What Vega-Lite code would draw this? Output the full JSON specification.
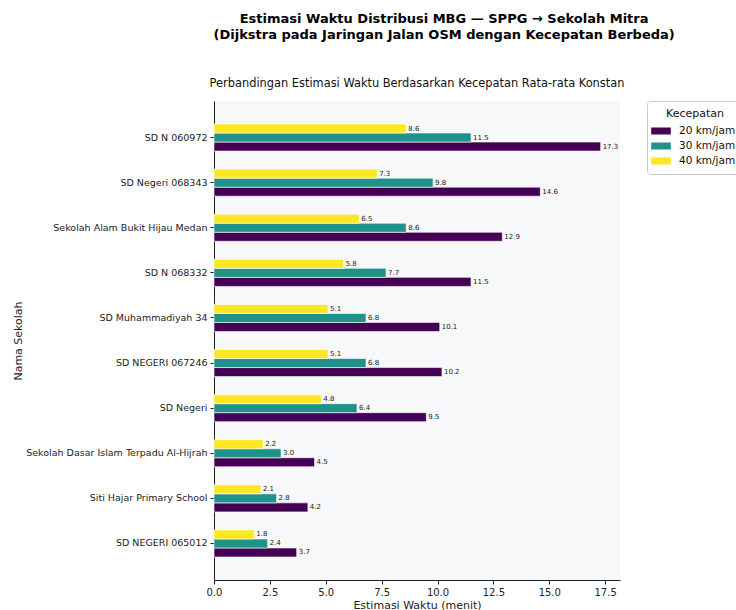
{
  "$schema": "https://vega.github.io/schema/vega-lite/v6.json",
  "background": "white",
  "padding": {"left": 12, "top": 12, "right": 0, "bottom": 0},
  "config": {
    "font": "DejaVu Sans",
    "view": {"stroke": null},
    "axis": {"labelColor": "#222", "titleColor": "#222", "domainColor": "#222", "tickColor": "#222", "grid": false, "titleFontWeight": "normal", "labelFont": "DejaVu Sans", "titleFont": "DejaVu Sans"}
  },
  "title": {
    "text": ["Estimasi Waktu Distribusi MBG — SPPG → Sekolah Mitra", "(Dijkstra pada Jaringan Jalan OSM dengan Kecepatan Berbeda)"],
    "fontSize": 13,
    "fontWeight": "bold",
    "color": "black",
    "anchor": "middle",
    "lineHeight": 16,
    "dx": 66,
    "offset": 36
  },
  "datasets": {
    "rows": [
      {"sekolah": "SD N 060972", "kecepatan": "20 km/jam", "menit": 17.3},
      {"sekolah": "SD N 060972", "kecepatan": "30 km/jam", "menit": 11.5},
      {"sekolah": "SD N 060972", "kecepatan": "40 km/jam", "menit": 8.6},
      {"sekolah": "SD Negeri 068343", "kecepatan": "20 km/jam", "menit": 14.6},
      {"sekolah": "SD Negeri 068343", "kecepatan": "30 km/jam", "menit": 9.8},
      {"sekolah": "SD Negeri 068343", "kecepatan": "40 km/jam", "menit": 7.3},
      {"sekolah": "Sekolah Alam Bukit Hijau Medan", "kecepatan": "20 km/jam", "menit": 12.9},
      {"sekolah": "Sekolah Alam Bukit Hijau Medan", "kecepatan": "30 km/jam", "menit": 8.6},
      {"sekolah": "Sekolah Alam Bukit Hijau Medan", "kecepatan": "40 km/jam", "menit": 6.5},
      {"sekolah": "SD N 068332", "kecepatan": "20 km/jam", "menit": 11.5},
      {"sekolah": "SD N 068332", "kecepatan": "30 km/jam", "menit": 7.7},
      {"sekolah": "SD N 068332", "kecepatan": "40 km/jam", "menit": 5.8},
      {"sekolah": "SD Muhammadiyah 34", "kecepatan": "20 km/jam", "menit": 10.1},
      {"sekolah": "SD Muhammadiyah 34", "kecepatan": "30 km/jam", "menit": 6.8},
      {"sekolah": "SD Muhammadiyah 34", "kecepatan": "40 km/jam", "menit": 5.1},
      {"sekolah": "SD NEGERI 067246", "kecepatan": "20 km/jam", "menit": 10.2},
      {"sekolah": "SD NEGERI 067246", "kecepatan": "30 km/jam", "menit": 6.8},
      {"sekolah": "SD NEGERI 067246", "kecepatan": "40 km/jam", "menit": 5.1},
      {"sekolah": "SD Negeri", "kecepatan": "20 km/jam", "menit": 9.5},
      {"sekolah": "SD Negeri", "kecepatan": "30 km/jam", "menit": 6.4},
      {"sekolah": "SD Negeri", "kecepatan": "40 km/jam", "menit": 4.8},
      {"sekolah": "Sekolah Dasar Islam Terpadu Al-Hijrah", "kecepatan": "20 km/jam", "menit": 4.5},
      {"sekolah": "Sekolah Dasar Islam Terpadu Al-Hijrah", "kecepatan": "30 km/jam", "menit": 3.0},
      {"sekolah": "Sekolah Dasar Islam Terpadu Al-Hijrah", "kecepatan": "40 km/jam", "menit": 2.2},
      {"sekolah": "Siti Hajar Primary School", "kecepatan": "20 km/jam", "menit": 4.2},
      {"sekolah": "Siti Hajar Primary School", "kecepatan": "30 km/jam", "menit": 2.8},
      {"sekolah": "Siti Hajar Primary School", "kecepatan": "40 km/jam", "menit": 2.1},
      {"sekolah": "SD NEGERI 065012", "kecepatan": "20 km/jam", "menit": 3.7},
      {"sekolah": "SD NEGERI 065012", "kecepatan": "30 km/jam", "menit": 2.4},
      {"sekolah": "SD NEGERI 065012", "kecepatan": "40 km/jam", "menit": 1.8}
    ]
  },
  "vconcat": [
    {
      "width": 406,
      "height": 479,
      "data": {"name": "rows"},
      "view": {"fill": "#f7f8fa", "stroke": null},
      "title": {"text": "Perbandingan Estimasi Waktu Berdasarkan Kecepatan Rata-rata Konstan", "fontSize": 11.4, "fontWeight": "normal", "color": "#111", "anchor": "middle", "offset": 12},
      "encoding": {
        "y": {
          "field": "sekolah",
          "type": "nominal",
          "sort": null,
          "title": "Nama Sekolah",
          "scale": {"paddingInner": 0.4, "paddingOuter": 0.51},
          "axis": {"labelFontSize": 9.5, "labelLimit": 300, "titleFontSize": 11, "tickSize": 4, "labelPadding": 3, "titlePadding": 2, "domainWidth": 1}
        },
        "yOffset": {
          "field": "kecepatan",
          "type": "nominal",
          "sort": ["40 km/jam", "30 km/jam", "20 km/jam"],
          "scale": {"paddingInner": 0, "paddingOuter": 0}
        },
        "x": {
          "field": "menit",
          "type": "quantitative",
          "title": "Estimasi Waktu (menit)",
          "scale": {"domain": [0, 18.165], "nice": false, "zero": true},
          "axis": {"values": [0, 2.5, 5, 7.5, 10, 12.5, 15, 17.5], "format": ".1f", "labelFontSize": 10, "titleFontSize": 11, "tickSize": 4, "labelPadding": 3, "titlePadding": 2, "domainWidth": 1, "labelFlush": false}
        }
      },
      "layer": [
        {
          "mark": {"type": "bar", "stroke": "white", "strokeWidth": 0.6},
          "encoding": {
            "color": {
              "field": "kecepatan",
              "type": "nominal",
              "title": "Kecepatan",
              "scale": {"domain": ["20 km/jam", "30 km/jam", "40 km/jam"], "range": ["#440154", "#21918c", "#fde725"]},
              "legend": {
                "orient": "right",
                "offset": 22,
                "titleFontSize": 11,
                "titleFontWeight": "normal",
                "titleAnchor": "middle",
                "titleColor": "#111",
                "labelFontSize": 10.5,
                "labelColor": "#111",
                "labelOffset": 11,
                "symbolType": "M-1.4,-0.5H1.4V0.5H-1.4Z",
                "symbolSize": 196,
                "symbolStrokeWidth": 0,
                "symbolOpacity": 1,
                "rowPadding": 2,
                "padding": 7,
                "strokeColor": "#cccccc",
                "fillColor": "white",
                "cornerRadius": 3
              }
            }
          }
        },
        {
          "mark": {"type": "text", "align": "left", "baseline": "middle", "dx": 2, "fontSize": 7, "color": "#222"},
          "encoding": {
            "text": {"field": "menit", "type": "quantitative", "format": ".1f"}
          }
        }
      ]
    }
  ]
}
